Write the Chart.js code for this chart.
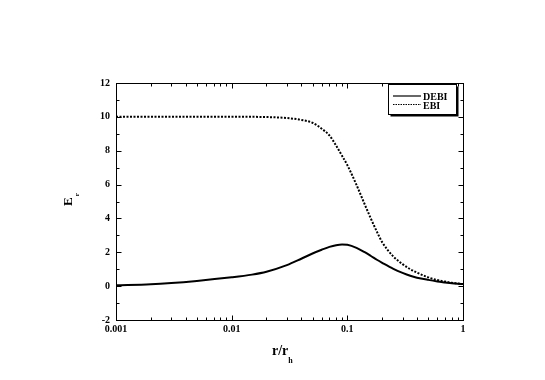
<!DOCTYPE html>
<html>
<head>
<meta charset="utf-8">
<script src="https://cdn.jsdelivr.net/npm/chart.js@4"></script>
<style>
  html, body { margin: 0; padding: 0; background: #fff; }
  #wrap { width: 545px; height: 380px; }
</style>
</head>
<body>
<div id="wrap"><canvas id="chart" width="545" height="380"></canvas></div>
<script>
// Datos
const rValues = [0.001, 0.002, 0.005, 0.01, 0.015, 0.02, 0.03, 0.04, 0.05, 0.06, 0.07, 0.08, 0.09, 0.1,
  0.12, 0.14, 0.16, 0.18, 0.2, 0.25, 0.3, 0.35, 0.4, 0.5, 0.6, 0.7, 0.8, 0.9, 1.0];
const debiValues = [0.05, 0.11, 0.31, 0.52, 0.68, 0.85, 1.24, 1.62, 1.93, 2.15, 2.32, 2.42, 2.46, 2.44,
  2.26, 2.02, 1.78, 1.56, 1.38, 1.02, 0.78, 0.61, 0.5, 0.37, 0.28, 0.22, 0.17, 0.14, 0.12];
const ebiValues = [10.0, 10.0, 10.0, 10.0, 10.0, 9.99, 9.93, 9.82, 9.65, 9.3, 8.9, 8.3, 7.7, 7.15,
  5.98, 4.9, 3.98, 3.22, 2.6, 1.75, 1.3, 1.0, 0.8, 0.52, 0.36, 0.27, 0.2, 0.16, 0.12];
const seriesLabels = ["DEBI", "EBI"];
const yTicks = [-2, 0, 2, 4, 6, 8, 10, 12];
const xTicks = [0.001, 0.01, 0.1, 1];

const serif = "'Liberation Serif', 'Times New Roman', serif";

function toPoints(ys) {
  return rValues.map((r, i) => ({ x: r, y: ys[i] }));
}

// Marco, ticks interiores, títulos y leyenda
const framePlugin = {
  id: "frame",
  afterDraw(chart) {
    const { ctx, chartArea, scales } = chart;
    const L = Math.round(chartArea.left) + 0.5;
    const R = Math.round(chartArea.right) + 0.5;
    const T = Math.round(chartArea.top) + 0.5;
    const B = Math.round(chartArea.bottom) + 0.5;
    ctx.save();
    ctx.strokeStyle = "#000";
    ctx.lineWidth = 1;
    ctx.setLineDash([]);
    ctx.strokeRect(L, T, R - L, B - T);

    ctx.beginPath();
    for (let v = -2; v <= 12; v++) {
      const py = Math.round(scales.y.getPixelForValue(v)) + 0.5;
      const len = v % 2 === 0 ? 5 : 3;
      ctx.moveTo(L, py); ctx.lineTo(L + len, py);
      ctx.moveTo(R, py); ctx.lineTo(R - len, py);
    }
    for (let d = -3; d <= 0; d++) {
      for (let m = 1; m <= 9; m++) {
        const v = m * Math.pow(10, d);
        if (v > 1.0001) break;
        const px = Math.round(scales.x.getPixelForValue(v)) + 0.5;
        const len = m === 1 ? 5 : 3;
        ctx.moveTo(px, B); ctx.lineTo(px, B - len);
        ctx.moveTo(px, T); ctx.lineTo(px, T + len);
      }
    }
    ctx.stroke();

    // Título eje x: r/r_h
    ctx.fillStyle = "#000";
    ctx.textAlign = "left";
    ctx.textBaseline = "alphabetic";
    ctx.font = "bold 14px " + serif;
    ctx.fillText("r/r", 272, 355);
    const w1 = ctx.measureText("r/r").width;
    ctx.font = "bold 8px " + serif;
    ctx.fillText("h", 272 + w1, 363);

    // Título eje y: E_r
    ctx.save();
    ctx.translate(72, 206);
    ctx.rotate(-Math.PI / 2);
    ctx.font = "bold 13px " + serif;
    ctx.fillText("E", 0, 0);
    const w2 = ctx.measureText("E").width;
    ctx.font = "bold 7px " + serif;
    ctx.fillText("r", w2 + 1, 7);
    ctx.restore();

    // Leyenda con sombra
    const bx = 388.5, by = 84.5, bw = 68, bh = 30;
    ctx.fillStyle = "#000";
    ctx.fillRect(bx + 2, by + 2, bw, bh);
    ctx.fillStyle = "#fff";
    ctx.fillRect(bx, by, bw, bh);
    ctx.strokeRect(bx, by, bw, bh);
    ctx.beginPath();
    ctx.lineWidth = 1.2;
    ctx.moveTo(393, 96); ctx.lineTo(421, 96);
    ctx.stroke();
    ctx.beginPath();
    ctx.setLineDash([1.5, 1]);
    ctx.moveTo(393, 104.5); ctx.lineTo(421, 104.5);
    ctx.stroke();
    ctx.setLineDash([]);
    ctx.fillStyle = "#000";
    ctx.font = "bold 10px " + serif;
    ctx.fillText(seriesLabels[0], 423, 100);
    ctx.fillText(seriesLabels[1], 423, 108.5);
    ctx.restore();
  },
};

new Chart(document.getElementById("chart"), {
  type: "line",
  data: {
    datasets: [
      {
        label: seriesLabels[0],
        data: toPoints(debiValues),
        borderColor: "#000",
        borderWidth: 2,
        pointRadius: 0,
        cubicInterpolationMode: "monotone",
        fill: false,
      },
      {
        label: seriesLabels[1],
        data: toPoints(ebiValues),
        borderColor: "#000",
        borderWidth: 2,
        borderDash: [2, 1.5],
        pointRadius: 0,
        cubicInterpolationMode: "monotone",
        fill: false,
      },
    ],
  },
  options: {
    responsive: false,
    animation: false,
    layout: { padding: { top: 83, right: 82, left: 0, bottom: 0 } },
    plugins: { legend: { display: false }, tooltip: { enabled: false } },
    scales: {
      x: {
        type: "logarithmic",
        min: 0.001,
        max: 1,
        afterBuildTicks: (s) => { s.ticks = xTicks.map((v) => ({ value: v })); },
        afterFit: (s) => { s.height = 60; },
        grid: { display: false, drawTicks: false },
        border: { display: false },
        ticks: {
          autoSkip: false,
          maxRotation: 0,
          padding: 3,
          color: "#000",
          font: { family: serif, size: 10, weight: "bold" },
          callback: (v) => String(v),
        },
      },
      y: {
        min: -2,
        max: 12,
        afterBuildTicks: (s) => { s.ticks = yTicks.map((v) => ({ value: v })); },
        afterFit: (s) => { s.width = 116; },
        grid: { display: false, drawTicks: false },
        border: { display: false },
        ticks: {
          padding: 6,
          color: "#000",
          font: { family: serif, size: 10, weight: "bold" },
        },
      },
    },
  },
  plugins: [framePlugin],
});
</script>
</body>
</html>
